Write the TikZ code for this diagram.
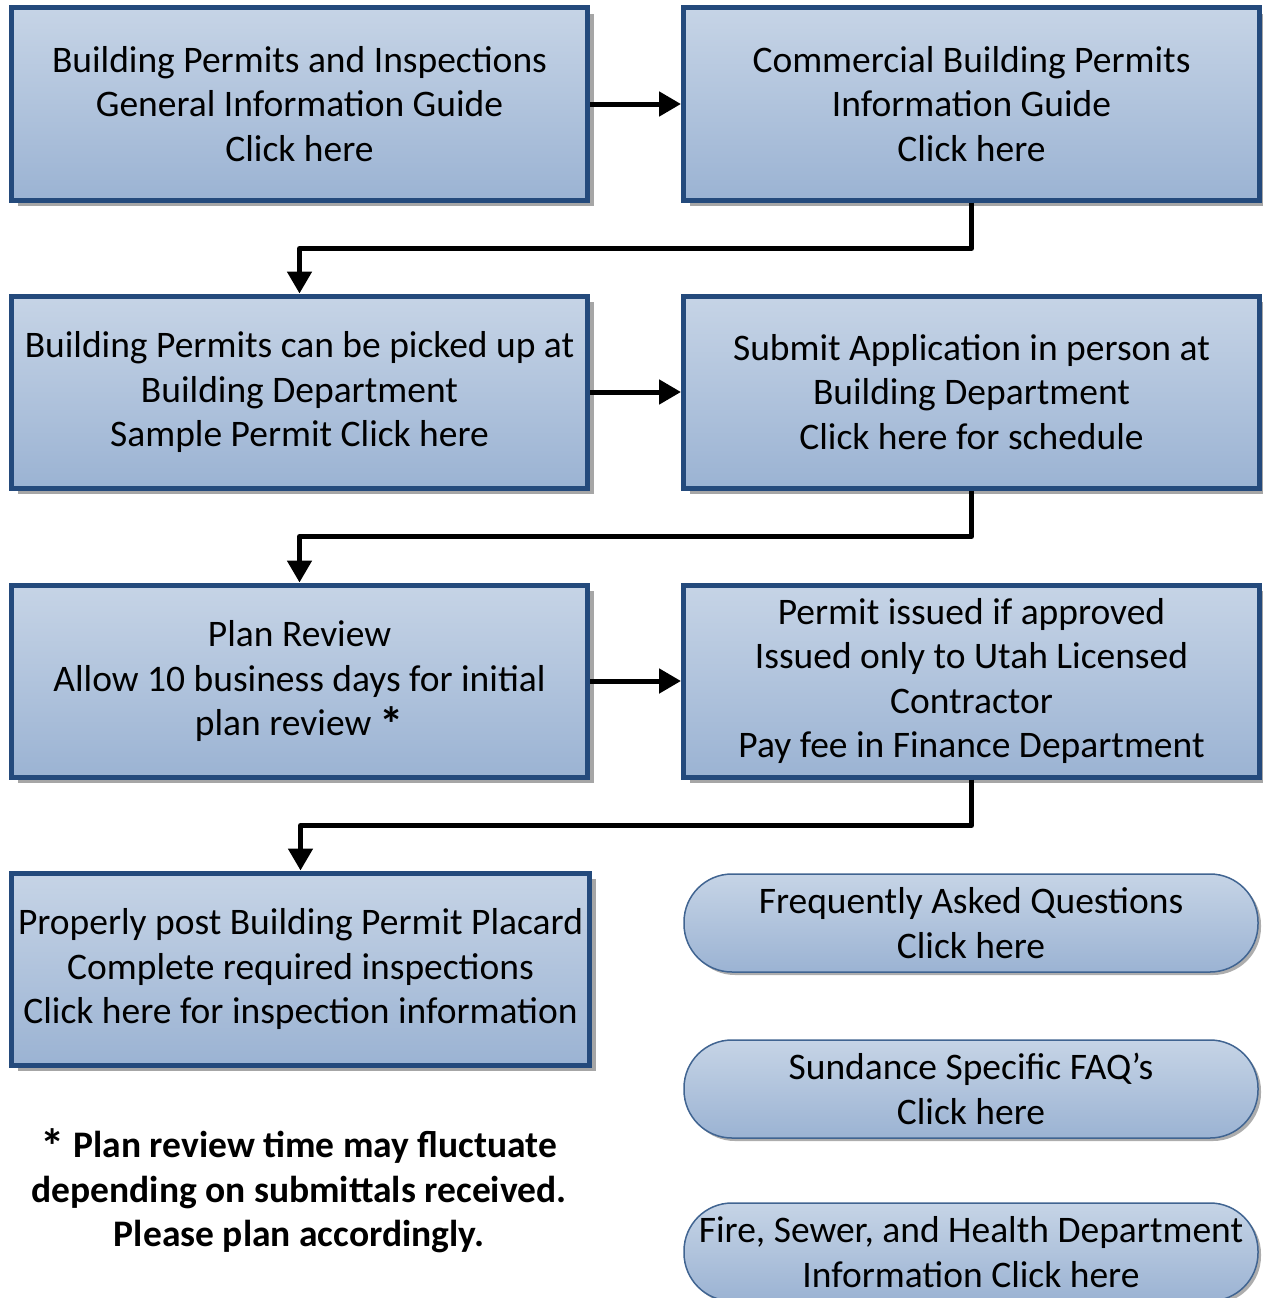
\documentclass[tikz,border=0pt]{standalone}
\usepackage{fontspec}
\usepackage{graphicx}
\setmainfont{Carlito}
\usetikzlibrary{arrows.meta,shadows}
\definecolor{bdr}{RGB}{36,74,124}
\definecolor{gtop}{RGB}{198,212,230}
\definecolor{gbot}{RGB}{155,179,211}
\definecolor{pbdr}{RGB}{64,100,145}
\newcommand\myast{\smash{\raisebox{-6pt}{\scalebox{1.3}{\bfseries *}}}}
\begin{document}
\begin{tikzpicture}[x=1pt,y=-1pt,
  txt/.style={font=\fontsize{37.5}{44.5}\selectfont, align=center},
  stepbox/.style={txt, rectangle, draw=bdr, line width=5pt, top color=gtop, bottom color=gbot,
    minimum width=576pt, minimum height=192pt, inner sep=0pt,
    drop shadow={shadow xshift=6pt, shadow yshift=-6pt, fill=black!35, opacity=1}},
  pill/.style={txt, rectangle, rounded corners=48pt, draw=pbdr, line width=1.5pt, top color=gtop, bottom color=gbot,
    minimum width=574pt, minimum height=98pt, inner sep=0pt,
    drop shadow={shadow xshift=3pt, shadow yshift=-3pt, fill=black!40, opacity=0.8}},
  conn/.style={line width=5pt, -{Triangle[length=22pt,width=24pt]}, line join=round}
]
\useasboundingbox (0,0) rectangle (1263,1298);
\node[stepbox] (b1) at (299.5,104) {Building Permits and Inspections\\General Information Guide\\Click here};
\node[stepbox] (b2) at (971.5,104) {Commercial Building Permits\\Information Guide\\Click here};
\node[stepbox] (b3) at (299.5,392) {Building Permits can be picked up at\\Building Department\\Sample Permit Click here};
\node[stepbox] (b4) at (971.5,392) {Submit Application in person at\\Building Department\\Click here for schedule};
\node[stepbox] (b5) at (299.5,681) {Plan Review\\Allow 10 business days for initial\\plan review \myast};
\node[stepbox] (b6) at (971.5,681) {Permit issued if approved\\Issued only to Utah Licensed\\Contractor\\Pay fee in Finance Department};
\node[stepbox, minimum width=578pt] (b7) at (300.5,969) {Properly post Building Permit Placard\\Complete required inspections\\Click here for inspection information};
\node[txt, font=\bfseries\fontsize{37.5}{44.5}\selectfont] (note) at (299,1192) {\myast{} Plan review time may fluctuate\\depending on submittals received.\\Please plan accordingly.};
\node[pill] (p1) at (971,923) {Frequently Asked Questions\\Click here};
\node[pill] (p2) at (971,1089) {Sundance Specific FAQ’s\\Click here};
\node[pill] (p3) at (971,1252) {Fire, Sewer, and Health Department\\Information Click here};
\draw[conn] (b1.east) -- (b2.west);
\draw[conn] (b3.east) -- (b4.west);
\draw[conn] (b5.east) -- (b6.west);
\draw[conn] (b2.south) -- ++(0,46) -| (b3.north);
\draw[conn] (b4.south) -- ++(0,46) -| (b5.north);
\draw[conn] (b6.south) -- ++(0,46) -| (b7.north);
\end{tikzpicture}
\end{document}
